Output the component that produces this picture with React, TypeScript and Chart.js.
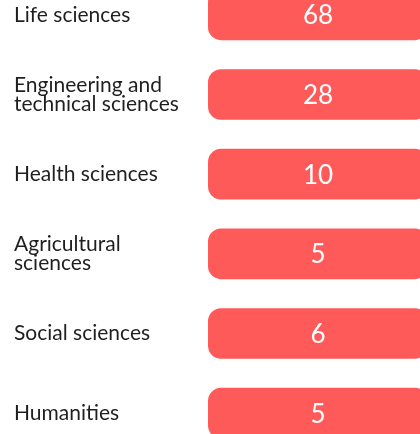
import React, { useEffect, useRef } from "react";
import { Chart, registerables } from "chart.js";

Chart.register(...registerables);

const categories: (string | string[])[] = [
  "Life sciences",
  ["Engineering and", "technical sciences"],
  "Health sciences",
  ["Agricultural", "sciences"],
  "Social sciences",
  "Humanities",
];
const values: number[] = [68, 28, 10, 5, 6, 5];
// every pill spans the full value column
const pillSpan: number[] = values.map(() => 1);

const BAR_COLOR = "#FF5A5A";

const valueLabelPlugin = {
  id: "valueLabels",
  afterDatasetsDraw(chart: any) {
    const { ctx } = chart;
    const meta = chart.getDatasetMeta(0);
    ctx.save();
    ctx.fillStyle = "#ffffff";
    ctx.font = "400 26px Lato";
    ctx.textAlign = "center";
    ctx.textBaseline = "middle";
    meta.data.forEach((bar: any, i: number) => {
      const { x, y, base } = bar.getProps(["x", "y", "base"], true);
      ctx.fillText(String(values[i]), (x + base) / 2, y + 1);
    });
    ctx.restore();
  },
};

export default function App() {
  const ref = useRef<HTMLCanvasElement | null>(null);
  useEffect(() => {
    if (!ref.current) return;
    const chart = new Chart(ref.current, {
      type: "bar",
      data: {
        labels: categories as any,
        datasets: [
          {
            data: pillSpan,
            backgroundColor: BAR_COLOR,
            borderRadius: 13,
            borderSkipped: false,
            barPercentage: 0.635,
            categoryPercentage: 1,
          },
        ],
      },
      options: {
        indexAxis: "y",
        animation: false,
        responsive: false,
        maintainAspectRatio: false,
        layout: { padding: { left: 14, right: 12, top: 0, bottom: 0 } },
        plugins: { legend: { display: false }, tooltip: { enabled: false } },
        scales: {
          x: { display: false, min: 0, max: 1 },
          y: {
            grid: { display: false },
            border: { display: false },
            ticks: {
              crossAlign: "far",
              padding: 0,
              color: "#1f1f1f",
              font: { family: "Lato", size: 21, lineHeight: 0.92 },
            },
            afterFit(scale: any) {
              scale.width = 194;
              scale.paddingTop = 0;
              scale.paddingBottom = 0;
            },
          },
        },
      },
      plugins: [valueLabelPlugin],
    });
    return () => chart.destroy();
  }, []);
  return (
    <div
      style={{
        position: "fixed",
        left: 0,
        top: 0,
        width: 420,
        height: 434,
        overflow: "hidden",
        background: "#fff",
      }}
    >
      <canvas
        ref={ref}
        width={440}
        height={478}
        style={{ position: "absolute", left: 0, top: -25, width: 440, height: 478 }}
      />
    </div>
  );
}
